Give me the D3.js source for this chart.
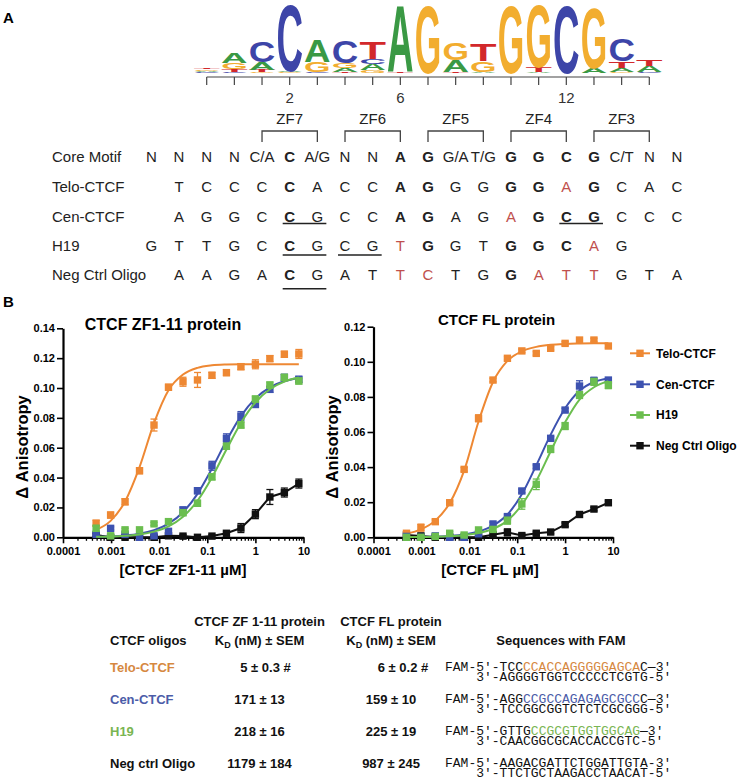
<!DOCTYPE html>
<html><head><meta charset="utf-8">
<script src="https://cdn.jsdelivr.net/npm/d3@7"></script>
<style>
body{margin:0;background:#fff}
svg{display:block;font-family:"Liberation Sans",Arial,Helvetica,sans-serif}
</style></head><body>
<svg id="c" width="741" height="779"></svg>
<script>
// ---------------- DATA ----------------
// Sequence logo: per position, letters bottom->top with height in bits
const logoStacks = [
  [["C",0.03],["A",0.03],["G",0.05],["T",0.05]],
  [["C",0.03],["T",0.09],["G",0.17],["A",0.29]],
  [["G",0.03],["T",0.06],["A",0.23],["C",0.62]],
  [["G",0.02],["A",0.03],["C",1.94]],
  [["C",0.03],["G",0.29],["A",0.63]],
  [["T",0.03],["A",0.11],["G",0.14],["C",0.66]],
  [["G",0.08],["A",0.17],["C",0.15],["T",0.5]],
  [["T",0.03],["A",1.94]],
  [["G",2.0]],
  [["T",0.03],["A",0.33],["G",0.48]],
  [["A",0.04],["G",0.31],["T",0.49]],
  [["G",2.0]],
  [["A",0.03],["T",0.14],["G",1.83]],
  [["C",2.0]],
  [["A",0.14],["G",1.77]],
  [["G",0.03],["A",0.11],["T",0.2],["C",0.66]],
  [["C",0.03],["A",0.17],["T",0.17]]
];
const logoTickLabels = [[3,"2"],[7,"6"],[13,"12"]];
const zfNames = ["ZF7","ZF6","ZF5","ZF4","ZF3"];
const zfSpans = [[2,4],[5,7],[8,10],[11,13],[14,16]];

const seqNames = ["Core Motif","Telo-CTCF","Cen-CTCF","H19","Neg Ctrl Oligo"];
const seqStart = [-2,-1,-1,-2,-1];
const seqLetters = [
  ["N","N","N","N","C/A","C","A/G","N","N","A","G","G/A","T/G","G","G","C","G","C/T","N","N"],
  ["T","C","C","C","C","A","C","C","A","G","G","G","G","G","A","G","C","A","C"],
  ["A","G","G","C","C","G","C","C","A","G","A","G","A","G","C","G","C","C","C"],
  ["G","T","T","G","C","C","G","C","G","T","G","G","T","G","G","C","A","G"],
  ["A","A","G","A","C","G","A","T","T","C","T","G","G","A","T","T","G","T","A"]
];
const seqBold = [[3,7,8,11,12,13,14],[3,7,8,11,12,14],[3,7,8,12,13,14],[3,8,11,12,13],[3,11]];
const seqRed = [[],[13],[11],[7,14],[7,8,12,13,14]];
const seqUnderline = [[],[],[[3,4],[13,14]],[[3,4],[5,6]],[[3,4]]];

// Binding curves (concentration in uM, 2-fold dilutions)
const conc = [0.000488,0.000977,0.00195,0.0039,0.0078,0.0156,0.03125,0.0625,0.125,0.25,0.5,1,2,4,8];
const seriesNames = ["Telo-CTCF","Cen-CTCF","H19","Neg Ctrl Oligo"];
// CTCF ZF1-11
const zfTelo = [0.0094,0.0149,0.0238,0.0446,0.0752,0.1005,0.1042,0.1054,0.1085,0.1103,0.1143,0.1159,0.1197,0.1226,0.1228];
const zfTeloErr = [0.002,0.002,0.002,0.002,0.004,0.002,0.003,0.005,0.002,0.002,0.002,0.003,0.002,0.002,0.003];
const zfTeloFit = [0.005,0.011,0.024,0.047,0.0765,0.0985,0.109,0.1135,0.1152,0.1158,0.116,0.116,0.116,0.116,0.116];
const zfCen = [0.002,0.006,0.002,0.0,0.001,0.004,0.0183,0.0312,0.0479,0.0663,0.0812,0.089,0.0991,0.1071,0.1058];
const zfCenErr = [0.001,0.001,0.001,0.001,0.001,0.001,0.002,0.002,0.003,0.003,0.003,0.002,0.002,0.002,0.002];
const zfCenFit = [0.0003,0.0006,0.0012,0.0024,0.0048,0.0091,0.0168,0.0291,0.046,0.0647,0.0812,0.093,0.1004,0.1045,0.1067];
const zfH19 = [0.006,0.001,0.005,0.005,0.009,0.0105,0.0165,0.0228,0.0405,0.061,0.0752,0.0926,0.102,0.1071,0.1047];
const zfH19Err = [0.002,0.001,0.001,0.001,0.001,0.001,0.002,0.002,0.002,0.002,0.002,0.002,0.002,0.002,0.002];
const zfH19Fit = [0.0003,0.0005,0.001,0.0019,0.0038,0.0073,0.0138,0.0245,0.0401,0.0588,0.0766,0.0903,0.0992,0.1043,0.107];
const zfNeg = [0.0015,0.0,0.0,0.0,0.0,0.001,0.0008,0.0,0.0008,0.0027,0.0062,0.0155,0.027,0.030,0.036];
const zfNegErr = [0.001,0.001,0.001,0.001,0.001,0.001,0.001,0.001,0.001,0.001,0.003,0.003,0.005,0.003,0.003];
// CTCF FL
const flTelo = [0.0023,0.0055,0.0089,0.0197,0.0387,0.0678,0.0896,0.102,0.1062,0.1048,0.1077,0.1105,0.1124,0.1124,0.109];
const flTeloErr = [0.001,0.002,0.001,0.001,0.001,0.002,0.001,0.001,0.001,0.001,0.001,0.001,0.001,0.001,0.001];
const flTeloFit = [0.002,0.0045,0.0095,0.0195,0.038,0.066,0.0885,0.1005,0.106,0.1085,0.1097,0.1102,0.1104,0.1105,0.1105];
const flCen = [0.0005,0.0,0.0008,0.0,0.0,0.002,0.0076,0.0118,0.0264,0.0402,0.0564,0.0725,0.0862,0.0892,0.0896];
const flCenErr = [0.001,0.001,0.001,0.001,0.001,0.001,0.001,0.001,0.001,0.001,0.001,0.001,0.003,0.002,0.001];
const flCenFit = [0.0001,0.0002,0.0004,0.0008,0.0016,0.0033,0.0067,0.013,0.0245,0.041,0.0585,0.0735,0.0835,0.0885,0.0905];
const flH19 = [0.0,0.0,0.0005,0.0023,0.0013,0.0042,0.0045,0.0095,0.019,0.0302,0.0503,0.0634,0.0811,0.0886,0.0867];
const flH19Err = [0.001,0.001,0.001,0.001,0.001,0.001,0.001,0.002,0.003,0.003,0.002,0.002,0.002,0.002,0.002];
const flH19Fit = [0.0001,0.0002,0.0003,0.0006,0.0012,0.0024,0.0048,0.0095,0.0185,0.032,0.049,0.0655,0.0785,0.0855,0.089];
const flNeg = [0.0013,0.0008,0.0,0.0,0.0,0.0,0.0015,0.0028,0.001,0.0023,0.003,0.0072,0.013,0.0161,0.0197];
const flNegErr = [0.001,0.001,0.001,0.001,0.001,0.001,0.001,0.002,0.001,0.001,0.001,0.001,0.001,0.001,0.001];

const xTickVals = [0.0001,0.001,0.01,0.1,1,10];
const xTickLabels = ["0.0001","0.001","0.01","0.1","1","10"];
const zfYTicks = [0,0.02,0.04,0.06,0.08,0.10,0.12,0.14];
const flYTicks = [0,0.02,0.04,0.06,0.08,0.10,0.12];

// Table
const oligoNames = ["Telo-CTCF","Cen-CTCF","H19","Neg ctrl Oligo"];
const kdZF = ["5 ± 0.3 #","171 ± 13","218 ± 16","1179 ± 184"];
const kdFL = ["6 ± 0.2 #","159 ± 10","225 ± 19","987 ± 245"];
const seqTopPre = ["TCC","AGG","GTTG","AAGACGATTCTGGATTGTA-3'"];
const seqTopMid = ["CCACCAGGGGGAGCA","CCGCCAGAGAGCGCC","CCGCGTGGTGGCAG",""];
const seqTopPost = ["C—3'","C—3'","—3'",""];
const seqBottom = ["3'-AGGGGTGGTCCCCCTCGTG-5'","3'-TCCGGCGGTCTCTCGCGGG-5'","3'-CAACGGCGCACCACCGTC-5'","3'-TTCTGCTAAGACCTAACAT-5'"];

// ---------------- STYLE ----------------
const logoColor = {A:"#3A9944",C:"#3D45A8",G:"#F2AD2F",T:"#D2282B"};
const serColor = ["#EE8833","#3D52B0","#6BBE4F","#111111"];
const tabColor = ["#D6883F","#4B5CA8","#79B552","#111111"];
const RED = "#C0504D";

const svg = d3.select("#c");
const txt = "#222";

svg.append("text").attr("x",3).attr("y",23).attr("font-size",15).attr("font-weight","bold").text("A");
svg.append("text").attr("x",3).attr("y",306.5).attr("font-size",15).attr("font-weight","bold").text("B");

// ---------------- LOGO ----------------
const col = d3.scaleLinear().domain([0,16]).range([206.7,649.3]);
const bits = d3.scaleLinear().domain([0,2]).range([73,3]);
const gLogo = svg.append("g");
logoStacks.forEach((stack,i)=>{
  let base = 0;
  stack.forEach(([L,h])=>{
    const y0 = bits(base), y1 = bits(base+h);
    base += h;
    const hp = y0 - y1;
    const t = gLogo.append("text").text(L)
      .attr("font-size",100).attr("font-weight","bold")
      .attr("text-anchor","middle").attr("fill",logoColor[L]);
    const w = t.node().getComputedTextLength();
    t.attr("transform",`translate(${col(i)},${y0}) scale(${26.5/w},${hp/72})`);
  });
});
// logo axis
const gAx = svg.append("g").attr("stroke","#444").attr("stroke-width",1.2);
gAx.append("line").attr("x1",col(0)).attr("x2",col(16)).attr("y1",77).attr("y2",77);
d3.range(17).forEach(i=>gAx.append("line").attr("x1",col(i)).attr("x2",col(i)).attr("y1",77).attr("y2",85));
logoTickLabels.forEach(([i,l])=>svg.append("text").attr("x",col(i)).attr("y",103).attr("text-anchor","middle")
  .attr("font-size",15).attr("fill","#333").text(l));

// ZF brackets
zfNames.forEach((n,k)=>{
  const [a,b] = zfSpans[k];
  svg.append("text").attr("x",col((a+b)/2)).attr("y",124).attr("text-anchor","middle")
    .attr("font-size",15).attr("fill",txt).text(n);
  svg.append("path").attr("d",`M${col(a)},142V131H${col(b)}V142`).attr("fill","none")
    .attr("stroke","#444").attr("stroke-width",1.3);
});

// Sequence table
const rowY = [161.5,191.5,221.5,250.5,279.8];
const ulOffset = [0,0,2,4.5,9];
seqNames.forEach((n,r)=>{
  svg.append("text").attr("x",52).attr("y",rowY[r]).attr("font-size",15).attr("fill",txt).text(n);
  seqLetters[r].forEach((L,k)=>{
    const c = seqStart[r]+k;
    svg.append("text").attr("x",col(c)).attr("y",rowY[r]).attr("text-anchor","middle")
      .attr("font-size",15)
      .attr("font-weight",seqBold[r].includes(c)?"bold":"normal")
      .attr("fill",seqRed[r].includes(c)?RED:txt).text(L);
  });
  seqUnderline[r].forEach(([a,b])=>{
    svg.append("line").attr("x1",col(a)-7).attr("x2",col(b)+9)
      .attr("y1",rowY[r]+ulOffset[r]).attr("y2",rowY[r]+ulOffset[r])
      .attr("stroke","#222").attr("stroke-width",1.5);
  });
});

// ---------------- PLOTS ----------------
function plot(cfg){
  const g = svg.append("g");
  const x = d3.scaleLog().domain([1e-4,10]).range(cfg.xr);
  const y = d3.scaleLinear().domain([0,cfg.ymax]).range([537.3,cfg.ytop]);
  // minor ticks
  const minors = [];
  for (let e=-4;e<1;e++) for (let m=2;m<10;m++) minors.push(m*Math.pow(10,e));
  const axMin = g.append("g").attr("transform","translate(0,537.3)")
    .call(d3.axisBottom(x).tickValues(minors).tickSize(3.5).tickSizeOuter(0).tickFormat(""));
  axMin.select(".domain").remove();
  axMin.selectAll("line").attr("stroke","#000").attr("stroke-width",1.3);
  const axX = g.append("g").attr("transform","translate(0,537.3)")
    .call(d3.axisBottom(x).tickValues(xTickVals).tickSize(6).tickSizeOuter(0).tickPadding(4)
      .tickFormat((d,i)=>xTickLabels[i]));
  const axY = g.append("g").attr("transform",`translate(${cfg.xr[0]},0)`)
    .call(d3.axisLeft(y).tickValues(cfg.yticks).tickSize(6).tickSizeOuter(0).tickPadding(2)
      .tickFormat(d3.format(".2f")));
  [axX,axY].forEach(a=>{
    a.select(".domain").attr("stroke","#000").attr("stroke-width",2.2);
    a.selectAll(".tick line").attr("stroke","#000").attr("stroke-width",1.6);
    a.selectAll("text").attr("font-size",11).attr("font-weight","bold").attr("fill","#000")
      .attr("font-family",'"Liberation Sans",Arial,sans-serif');
  });
  // titles
  g.append("text").attr("x",cfg.titleX).attr("y",cfg.titleY).attr("text-anchor","middle")
    .attr("font-size",cfg.titleSize).attr("font-weight","bold").text(cfg.title);
  g.append("text").attr("x",cfg.xtitleX).attr("y",575).attr("text-anchor","middle")
    .attr("font-size",15).attr("font-weight","bold").text(cfg.xtitle);
  g.append("text").attr("transform",`translate(${cfg.ylabX},447) rotate(-90)`).attr("text-anchor","middle")
    .attr("font-size",16.5).attr("font-weight","bold").text("Δ Anisotropy");
  // series (draw black first)
  [3,0,1,2].forEach(s=>{
    const vals = cfg.vals[s], errs = cfg.errs[s], fit = cfg.fits[s];
    const line = d3.line().x((d,i)=>x(conc[i])).y(d=>y(d))
      .curve(fit ? d3.curveMonotoneX : d3.curveLinear);
    g.append("path").datum(fit || vals).attr("d",line).attr("fill","none")
      .attr("stroke",serColor[s]).attr("stroke-width",2);
    vals.forEach((v,i)=>{
      const cx = x(conc[i]);
      const e = errs[i];
      const eb = g.append("g").attr("stroke",serColor[s]).attr("stroke-width",1.3);
      eb.append("line").attr("x1",cx).attr("x2",cx).attr("y1",y(v-e)).attr("y2",y(v+e));
      eb.append("line").attr("x1",cx-3.5).attr("x2",cx+3.5).attr("y1",y(v-e)).attr("y2",y(v-e));
      eb.append("line").attr("x1",cx-3.5).attr("x2",cx+3.5).attr("y1",y(v+e)).attr("y2",y(v+e));
    });
    g.selectAll(null).data(vals).enter().append("rect")
      .attr("x",(d,i)=>x(conc[i])-3.7).attr("y",d=>y(d)-3.7)
      .attr("width",7.4).attr("height",7.4).attr("fill",serColor[s]);
  });
}
plot({xr:[63,303.5], ymax:0.14, ytop:328.3, yticks:zfYTicks,
  title:"CTCF ZF1-11 protein", titleX:163, titleY:330, titleSize:16,
  xtitle:"[CTCF ZF1-11 µM]", xtitleX:183, ylabX:28,
  vals:[zfTelo,zfCen,zfH19,zfNeg], errs:[zfTeloErr,zfCenErr,zfH19Err,zfNegErr],
  fits:[zfTeloFit,zfCenFit,zfH19Fit,null]});
plot({xr:[373.5,613], ymax:0.12, ytop:326.7, yticks:flYTicks,
  title:"CTCF FL protein", titleX:496.5, titleY:324.5, titleSize:15,
  xtitle:"[CTCF FL µM]", xtitleX:490, ylabX:338,
  vals:[flTelo,flCen,flH19,flNeg], errs:[flTeloErr,flCenErr,flH19Err,flNegErr],
  fits:[flTeloFit,flCenFit,flH19Fit,null]});

// legend
const legY = [353.3,384.3,415,445.7];
seriesNames.forEach((n,i)=>{
  svg.append("line").attr("x1",630).attr("x2",650).attr("y1",legY[i]).attr("y2",legY[i])
    .attr("stroke",serColor[i]).attr("stroke-width",2);
  svg.append("rect").attr("x",636.3).attr("y",legY[i]-3.7).attr("width",7.4).attr("height",7.4).attr("fill",serColor[i]);
  svg.append("text").attr("x",656).attr("y",legY[i]+4.3).attr("font-size",12).attr("font-weight","bold").text(n);
});

// ---------------- TABLE ----------------
const tb = svg.append("g").attr("font-weight","bold").attr("font-size",13).attr("fill","#111");
const c1 = 259.5, c2 = 391;
tb.append("text").attr("x",c1).attr("y",626.4).attr("text-anchor","middle").text("CTCF ZF 1-11 protein");
tb.append("text").attr("x",c2).attr("y",626.4).attr("text-anchor","middle").text("CTCF FL protein");
tb.append("text").attr("x",110).attr("y",644.7).text("CTCF oligos");
[c1,c2].forEach(cx=>{
  const t = tb.append("text").attr("x",cx).attr("y",644.7).attr("text-anchor","middle");
  t.append("tspan").text("K");
  t.append("tspan").attr("font-size",9).attr("dy",3).text("D");
  t.append("tspan").attr("dy",-3).text(" (nM) ± SEM");
});
tb.append("text").attr("x",561).attr("y",644.7).attr("text-anchor","middle").text("Sequences with FAM");
const tRowY = [672,704,736.4,768];
oligoNames.forEach((n,i)=>{
  tb.append("text").attr("x",110).attr("y",tRowY[i]).attr("fill",tabColor[i]).text(n);
  tb.append("text").attr("x",c1 + (kdZF[i].includes("#")?6:0)).attr("y",tRowY[i]).attr("text-anchor","middle").text(kdZF[i]);
  tb.append("text").attr("x",c2 + (kdFL[i].includes("#")?12:0)).attr("y",tRowY[i]).attr("text-anchor","middle").text(kdFL[i]);
  const s1 = svg.append("text").attr("x",445).attr("y",tRowY[i]-1)
    .attr("font-family",'"Liberation Mono","Courier New",monospace').attr("font-size",13)
    .attr("fill","#111").style("white-space","pre");
  s1.append("tspan").text("FAM-5'-"+seqTopPre[i]);
  if (seqTopMid[i]) s1.append("tspan").attr("fill",tabColor[i]).text(seqTopMid[i]);
  if (seqTopPost[i]) s1.append("tspan").text(seqTopPost[i]);
  svg.append("text").attr("x",445+4*7.8).attr("y",tRowY[i]+8.5)
    .attr("font-family",'"Liberation Mono","Courier New",monospace').attr("font-size",13)
    .attr("fill","#111").text(seqBottom[i]);
});
</script>
</body></html>
